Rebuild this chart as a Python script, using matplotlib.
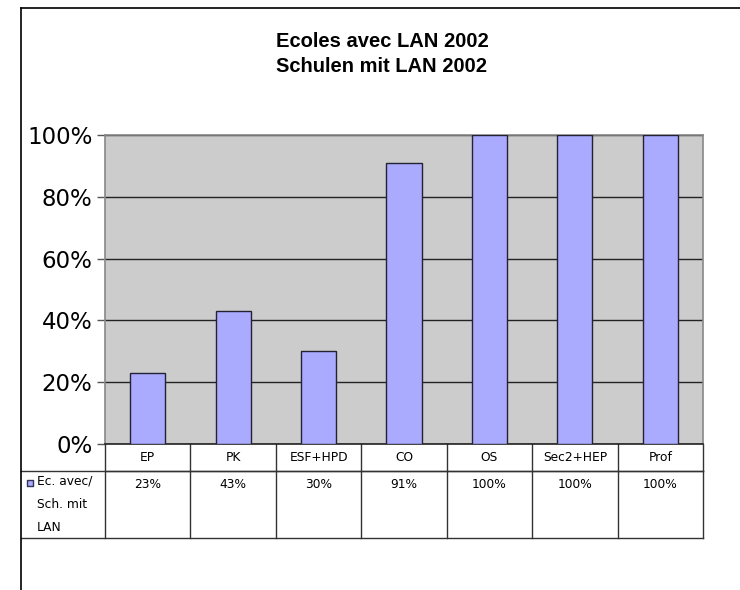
import numpy as np
import matplotlib
matplotlib.use("Agg")
import matplotlib.pyplot as plt
from matplotlib.ticker import FuncFormatter

categories = ["EP", "PK", "ESF+HPD", "CO", "OS", "Sec2+HEP", "Prof"]
values = [23, 43, 30, 91, 100, 100, 100]
value_labels = ["23%", "43%", "30%", "91%", "100%", "100%", "100%"]
series_name = "Ec. avec/\nSch. mit\nLAN"
title = "Ecoles avec LAN 2002\nSchulen mit LAN 2002"

bar_color = "#aaaaff"
plot_bg = "#cccccc"

fig = plt.figure(figsize=(7.4, 5.9), dpi=100)
ax = fig.add_axes([105/740, 1 - 444/590, 598/740, 309/590])

x = np.arange(len(categories))
ax.set_facecolor(plot_bg)
ax.bar(x, values, width=0.41, color=bar_color, edgecolor="#222233", linewidth=1.0, zorder=3)
ax.set_xlim(-0.5, len(categories) - 0.5)
ax.set_ylim(0, 100)
ax.set_yticks(np.arange(0, 101, 20))
ax.yaxis.set_major_formatter(FuncFormatter(lambda v, p: f"{v:.0f}%"))
ax.grid(axis="y", color="#222222", linewidth=1.0, zorder=1)
ax.set_xticks([])
ax.tick_params(axis="y", labelsize=16.5, length=6, width=1, color="#555555", pad=3)
for s in ["left", "right", "top"]:
    ax.spines[s].set_color("#888888")
    ax.spines[s].set_linewidth(1.2)
ax.spines["bottom"].set_color("#222222")
ax.spines["bottom"].set_linewidth(1.2)

# data table below the axis
trans = ax.get_xaxis_transform()
h1 = 27 / 309
h2 = 94 / 309
lw = 1.0
lc = "#333333"
leg_left = (21 - 105) / 598
ax.plot([-0.5, len(categories) - 0.5], [-h1, -h1], transform=trans, color=lc, lw=lw, clip_on=False)
ax.plot([leg_left, 1], [-h1, -h1], transform=ax.transAxes, color=lc, lw=lw, clip_on=False)
ax.plot([leg_left, 1], [-h2, -h2], transform=ax.transAxes, color=lc, lw=lw, clip_on=False)
for b in np.arange(len(categories) + 1) - 0.5:
    ax.plot([b, b], [0, -h2], transform=trans, color=lc, lw=lw, clip_on=False)
for i, (c, v) in enumerate(zip(categories, value_labels)):
    ax.text(i, -h1 / 2, c, transform=trans, ha="center", va="center", fontsize=8.8)
    ax.text(i, -h1 - 13 / 309, v, transform=trans, ha="center", va="center", fontsize=8.8)

# legend key in table
ax.scatter([leg_left + 0.015], [-h1 - 12 / 309], transform=ax.transAxes, marker="s", s=24,
           color=bar_color, edgecolor="#333355", linewidth=1, clip_on=False)
ax.text(leg_left + 0.027, -h1 - 4 / 309, series_name, transform=ax.transAxes, ha="left", va="top",
        fontsize=8.8, linespacing=2.0)

# frame around chart area
fig.add_artist(plt.Line2D([21/740, 21/740], [0, 1 - 8/590], color="black", lw=1.2))
fig.add_artist(plt.Line2D([21/740, 1], [1 - 8/590, 1 - 8/590], color="black", lw=1.2))

fig.text(382/740, 1 - 54/590, title, ha="center", va="center", fontsize=14.5,
         fontweight="bold", family="Liberation Sans", linespacing=1.4)

fig.savefig("out.png", dpi=100)
